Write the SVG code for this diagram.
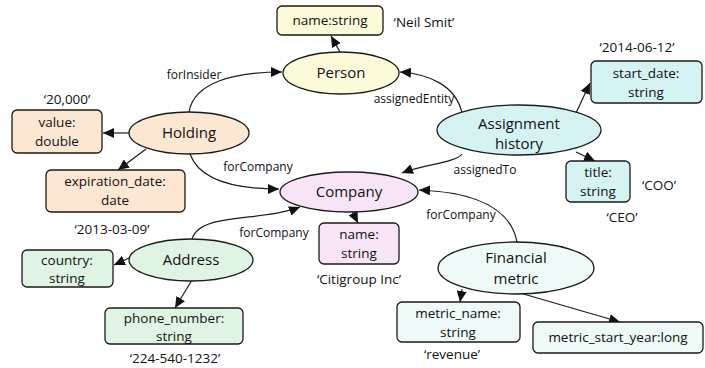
<svg xmlns="http://www.w3.org/2000/svg" width="705" height="368" viewBox="0 0 705 368">
  <style>
    .shape { stroke: #1a1a1a; stroke-width: 1.3; }
    .node { font-family: "Open Sans", "Noto Sans", sans-serif; font-size: 15px; fill: #111; text-anchor: middle; }
    .attr { font-family: "Open Sans", "Noto Sans", sans-serif; font-size: 13.5px; fill: #111; text-anchor: middle; }
    .val { font-family: "Open Sans", "Noto Sans", sans-serif; font-size: 13.5px; fill: #111; text-anchor: middle; }
    .elabel { font-family: "Open Sans", "Noto Sans", sans-serif; font-size: 12px; fill: #111; text-anchor: middle; }
    .edge { fill: none; stroke: #1a1a1a; stroke-width: 1.2; marker-end: url(#arrow); }
    .yellow { fill: #fcfbd9; }
    .peach { fill: #fce7d3; }
    .lavender { fill: #f7e5f7; }
    .green { fill: #e0f4e4; }
    .cyan { fill: #d6f3f4; }
    .pale { fill: #edfaf8; }
  </style>
  <defs>
    <marker id="arrow" markerUnits="userSpaceOnUse" markerWidth="12" markerHeight="10" refX="11" refY="5" orient="auto">
      <path d="M0,0 L11,5 L0,10 z" fill="#111"/>
    </marker>
  </defs>

  <!-- connectors -->
  <g id="connectors">
    <path class="edge" d="M189,112 C194,82 235,72 282,72"/>
    <path class="edge" d="M190,154 C200,182 240,189 279,189"/>
    <path class="edge" d="M129,133 L103,133"/>
    <path class="edge" d="M146,149 L118,170"/>
    <path class="edge" d="M340,52 L331,36"/>
    <path class="edge" d="M462,113 C456,86 430,74 400,72"/>
    <path class="edge" d="M462,154 C455,163 425,164 402,173"/>
    <path class="edge" d="M576,113 L590,83"/>
    <path class="edge" d="M576,152 L595,161"/>
    <path class="edge" d="M352,211 L358,223"/>
    <path class="edge" d="M192,239 C200,212 262,222 300,207"/>
    <path class="edge" d="M129,258 L114,265"/>
    <path class="edge" d="M192,280 L175,308"/>
    <path class="edge" d="M517,242 C510,205 470,192 419,190"/>
    <path class="edge" d="M462,289 L460,302"/>
    <path class="edge" d="M520,293 L620,322"/>

    <text class="elabel" x="194" y="79">forInsider</text>
    <text class="elabel" x="258" y="171">forCompany</text>
    <text class="elabel" x="414" y="103">assignedEntity</text>
    <text class="elabel" x="485" y="174">assignedTo</text>
    <text class="elabel" x="274" y="237">forCompany</text>
    <text class="elabel" x="461" y="219">forCompany</text>
  </g>

  <!-- Person -->
  <g id="person">
    <ellipse class="shape yellow" cx="341" cy="73" rx="58" ry="21"/>
    <text class="node" x="341" y="78">Person</text>
  </g>
  <g id="person-name">
    <rect class="shape yellow" x="277" y="6" width="106" height="29" rx="5"/>
    <text class="attr" x="330" y="25">name:string</text>
    <text class="val" x="424" y="27">‘Neil Smit’</text>
  </g>

  <!-- Holding -->
  <g id="holding">
    <ellipse class="shape peach" cx="189" cy="133" rx="60" ry="21"/>
    <text class="node" x="189" y="138">Holding</text>
  </g>
  <g id="holding-value">
    <text class="val" x="67" y="104">‘20,000’</text>
    <rect class="shape peach" x="12" y="110" width="90" height="43" rx="5"/>
    <text class="attr" x="57" y="127">value:</text>
    <text class="attr" x="57" y="146">double</text>
  </g>
  <g id="holding-expiration">
    <rect class="shape peach" x="46" y="170" width="139" height="42" rx="5"/>
    <text class="attr" x="115" y="186">expiration_date:</text>
    <text class="attr" x="115" y="205">date</text>
    <text class="val" x="112" y="234">‘2013-03-09’</text>
  </g>

  <!-- Company -->
  <g id="company">
    <ellipse class="shape lavender" cx="349" cy="192" rx="69" ry="20"/>
    <text class="node" x="349" y="197">Company</text>
  </g>
  <g id="company-name">
    <rect class="shape lavender" x="319" y="223" width="80" height="41" rx="5"/>
    <text class="attr" x="359" y="239">name:</text>
    <text class="attr" x="359" y="258">string</text>
    <text class="val" x="359" y="284">‘Citigroup Inc’</text>
  </g>

  <!-- Address -->
  <g id="address">
    <ellipse class="shape green" cx="191" cy="260" rx="62" ry="21"/>
    <text class="node" x="191" y="265">Address</text>
  </g>
  <g id="address-country">
    <rect class="shape green" x="22" y="250" width="91" height="37" rx="5"/>
    <text class="attr" x="67" y="265">country:</text>
    <text class="attr" x="67" y="283">string</text>
  </g>
  <g id="address-phone">
    <rect class="shape green" x="105" y="308" width="138" height="36" rx="5"/>
    <text class="attr" x="174" y="323">phone_number:</text>
    <text class="attr" x="174" y="341">string</text>
    <text class="val" x="175" y="363">‘224-540-1232’</text>
  </g>

  <!-- Assignment history -->
  <g id="assignment">
    <ellipse class="shape cyan" cx="519" cy="130" rx="82" ry="25"/>
    <text class="node" x="519" y="129">Assignment</text>
    <text class="node" x="519" y="149">history</text>
  </g>
  <g id="assignment-start">
    <text class="val" x="637" y="52">‘2014-06-12’</text>
    <rect class="shape cyan" x="591" y="61" width="111" height="42" rx="5"/>
    <text class="attr" x="646" y="78">start_date:</text>
    <text class="attr" x="646" y="97">string</text>
  </g>
  <g id="assignment-title">
    <rect class="shape cyan" x="566" y="161" width="64" height="41" rx="5"/>
    <text class="attr" x="598" y="177">title:</text>
    <text class="attr" x="598" y="196">string</text>
    <text class="val" x="659" y="190">‘COO’</text>
    <text class="val" x="622" y="222">‘CEO’</text>
  </g>

  <!-- Financial metric -->
  <g id="financial">
    <ellipse class="shape pale" cx="516" cy="268" rx="78" ry="26"/>
    <text class="node" x="516" y="263">Financial</text>
    <text class="node" x="516" y="284">metric</text>
  </g>
  <g id="financial-name">
    <rect class="shape pale" x="397" y="302" width="123" height="40" rx="5"/>
    <text class="attr" x="458" y="318">metric_name:</text>
    <text class="attr" x="458" y="337">string</text>
    <text class="val" x="452" y="359">‘revenue’</text>
  </g>
  <g id="financial-start-year">
    <rect class="shape pale" x="533" y="322" width="170" height="31" rx="5"/>
    <text class="attr" x="618" y="342">metric_start_year:long</text>
  </g>
</svg>
